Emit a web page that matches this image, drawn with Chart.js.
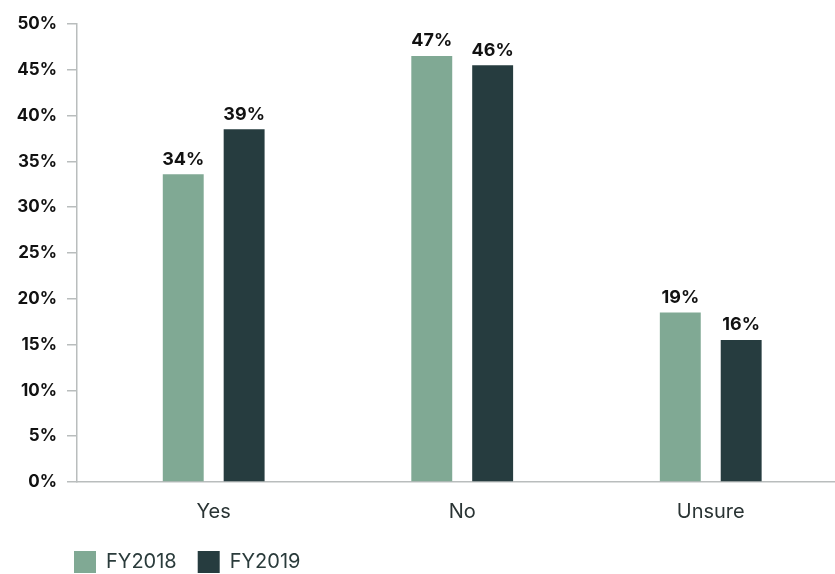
<!DOCTYPE html>
<html>
<head>
<meta charset="utf-8">
<script src="https://cdn.jsdelivr.net/npm/chart.js@4/dist/chart.umd.min.js"></script>
<style>
  html, body { margin: 0; padding: 0; background: #fff; }
  #wrap { width: 835px; height: 574px; }
</style>
</head>
<body>
<div id="wrap"><canvas id="chart"></canvas></div>
<script>
// survey answers, share of respondents (%)
const categories = ["Yes", "No", "Unsure"];
const fy2018 = [33.6, 46.5, 18.5];
const fy2019 = [38.5, 45.5, 15.5];
const yTicks = [0, 5, 10, 15, 20, 25, 30, 35, 40, 45, 50];

const FONT = "Inter, 'Open Sans', sans-serif";

// bars sit on a numeric x axis so the groups can be nudged off the y axis
const toPoints = (vals) => vals.map((v, i) => ({ x: i, y: v }));

// value labels above each bar
const barLabels = {
  id: "barLabels",
  afterDatasetsDraw(chart) {
    const ctx = chart.ctx;
    ctx.save();
    ctx.font = "700 18px " + FONT;
    ctx.fillStyle = "#111";
    ctx.textAlign = "center";
    ctx.textBaseline = "bottom";
    chart.data.datasets.forEach((ds, di) => {
      chart.getDatasetMeta(di).data.forEach((bar, i) => {
        ctx.fillText(Math.round(ds.data[i].y) + "%", bar.x, bar.y - 6);
      });
    });
    ctx.restore();
  }
};

// legend starts under the y axis rather than at the canvas edge
const legendShift = {
  id: "legendShift",
  afterLayout(chart) {
    const lg = chart.legend;
    lg.left = 74 - lg.options.labels.padding;
  }
};

new Chart(document.getElementById("chart"), {
  type: "bar",
  data: {
    datasets: [
      { label: "FY2018", data: toPoints(fy2018), backgroundColor: "#80a994", borderWidth: 0 },
      { label: "FY2019", data: toPoints(fy2019), backgroundColor: "#263c3f", borderWidth: 0 }
    ]
  },
  options: {
    responsive: true,
    maintainAspectRatio: false,
    animation: false,
    categoryPercentage: 0.49,
    barPercentage: 0.672,
    layout: { padding: { top: 24, right: 0, bottom: -9, left: 0 } },
    plugins: {
      tooltip: { enabled: false },
      legend: {
        position: "bottom",
        align: "start",
        labels: {
          boxWidth: 22,
          boxHeight: 22,
          padding: 21,
          color: "#2a3b3b",
          font: { family: FONT, size: 20, weight: "400" }
        }
      }
    },
    scales: {
      x: {
        type: "linear",
        offset: false,
        min: -0.55,
        max: 2.5,
        afterFit: (scale) => { scale.height -= 12; },
        grid: { display: false, drawTicks: false },
        border: { color: "#b9bdbd", width: 1.5 },
        ticks: {
          stepSize: 1,
          includeBounds: false,
          maxRotation: 0,
          autoSkip: false,
          padding: 18,
          color: "#2a3434",
          font: { family: FONT, size: 20, weight: "400" },
          callback: (v) => categories[v] ?? ""
        }
      },
      y: {
        min: 0,
        max: 50,
        afterBuildTicks: (scale) => { scale.ticks = yTicks.map((v) => ({ value: v })); },
        afterFit: (scale) => { scale.width = 77; },
        grid: { drawOnChartArea: false, drawTicks: true, tickLength: 10, color: "#b9bdbd", lineWidth: 1.5 },
        border: { color: "#b9bdbd", width: 1.5 },
        ticks: {
          padding: 10,
          color: "#111",
          font: { family: FONT, size: 17, weight: "700" },
          callback: (v) => v + "%"
        }
      }
    }
  },
  plugins: [barLabels, legendShift]
});
</script>
</body>
</html>
